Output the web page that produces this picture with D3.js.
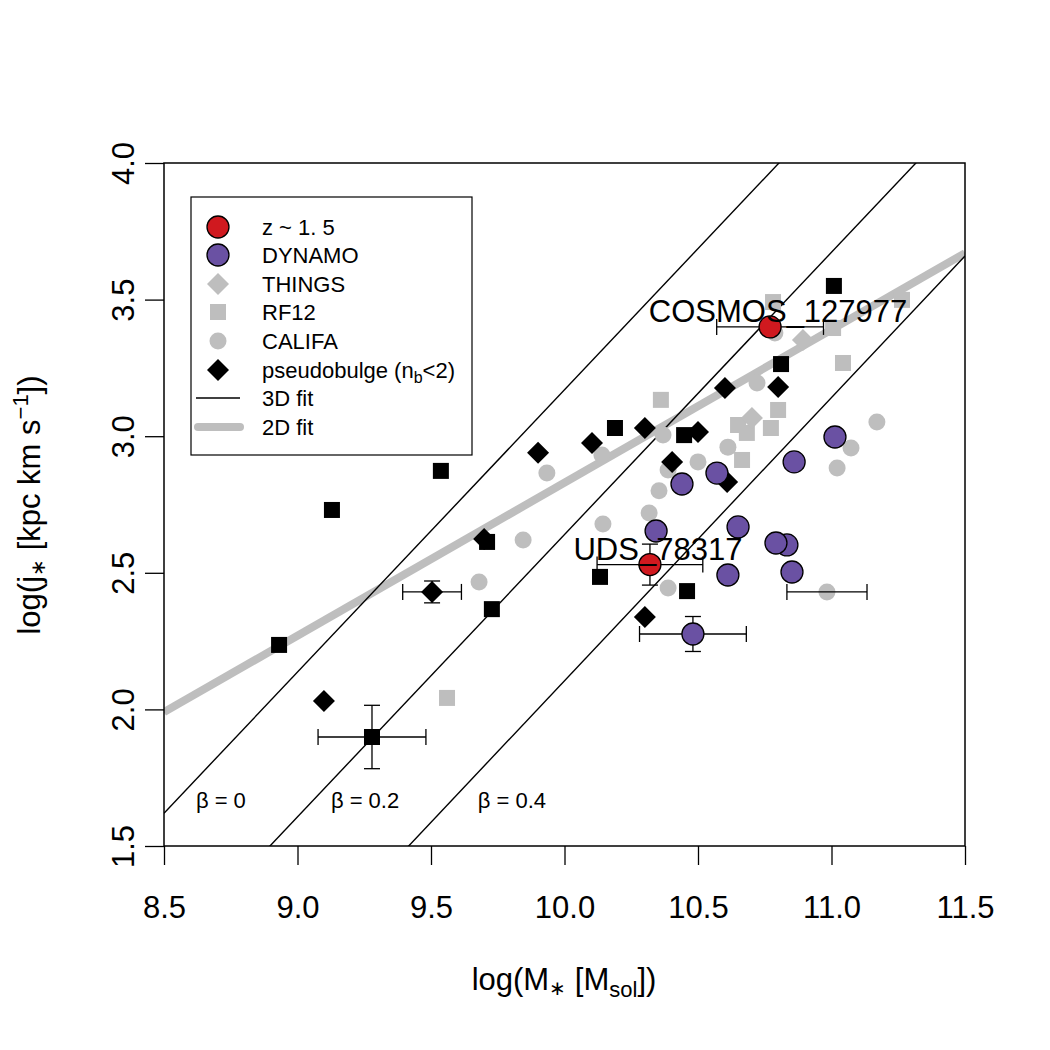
<!DOCTYPE html>
<meta charset="utf-8">
<script src="https://d3js.org/d3.v7.min.js"></script>
<style>
  body { margin: 0; background: #fff; }
  text { font-family: "Liberation Sans", Arial, Helvetica, sans-serif; }
</style>
<div id="my_dataviz"></div>
<script>
// ---- data ----
// z ~ 1.5 objects
var zX = [10.77, 10.32];
var zY = [3.40, 2.53];
var zNames = ["COSMOS_127977", "UDS_78317"];

// DYNAMO
var dynX = [11.013, 10.860, 10.571, 10.440, 10.343, 10.650, 10.833, 10.792, 10.612, 10.852, 10.481];
var dynY = [2.997, 2.906, 2.865, 2.825, 2.653, 2.668, 2.602, 2.609, 2.492, 2.503, 2.276];

// THINGS
var thingsX = [10.702, 10.893];
var thingsY = [3.067, 3.352];

// RF12
var rfX = [10.781, 10.361, 11.043, 10.800, 10.650, 10.773, 11.264, 11.006, 10.665, 9.560, 10.683];
var rfY = [3.491, 3.133, 3.268, 3.096, 3.041, 3.030, 3.499, 3.396, 2.913, 2.042, 3.012];

// CALIFA
var califaX = [11.170, 11.073, 11.021, 10.612, 10.500, 10.369, 10.388, 10.354, 10.317, 10.144, 10.388, 10.983, 10.721, 10.140, 9.934, 9.845, 9.680, 10.788];
var califaY = [3.052, 2.957, 2.884, 2.960, 2.906, 3.004, 2.876, 2.800, 2.719, 2.679, 2.444, 2.430, 3.195, 2.931, 2.865, 2.620, 2.466, 3.378];

// pseudobulges: squares and diamonds
var pbSqX = [9.129, 9.537, 8.931, 9.279, 9.728, 10.133, 10.189, 10.448, 10.459, 10.811, 11.009, 9.710];
var pbSqY = [2.730, 2.873, 2.236, 1.899, 2.367, 2.485, 3.030, 3.004, 2.433, 3.264, 3.550, 2.613];
var pbDiX = [9.504, 9.099, 9.901, 10.103, 10.301, 10.500, 10.403, 10.601, 10.800, 10.609, 10.301, 9.699];
var pbDiY = [2.430, 2.031, 2.939, 2.975, 3.030, 3.015, 2.906, 3.176, 3.180, 2.832, 2.338, 2.624];

// error bars (x, y, half-width in x, half-width in y)
var errX  = [9.279, 9.504, 10.481, 10.983, 10.32, 10.77];
var errY  = [1.899, 2.430, 2.276, 2.430, 2.53, 3.40];
var errDX = [0.202, 0.110, 0.200, 0.150, 0.198, 0.200];
var errDY = [0.116, 0.040, 0.064, 0, 0.075, 0];

// 3D fit lines for beta = 0, 0.2, 0.4 (endpoints at x = 8.5 and 11.5)
var fitBeta = ["0", "0.2", "0.4"];
var fitY0 = [1.62, 1.09, 0.55];
var fitY1 = [4.72, 4.19, 3.66];
var betaLabX = [8.713, 9.253, 9.803];
var betaLabY = 1.665;

// 2D fit
var fit2dX = [8.5, 11.5];
var fit2dY = [1.99, 3.67];

var xTicks = [8.5, 9.0, 9.5, 10.0, 10.5, 11.0, 11.5];
var yTicks = [1.5, 2.0, 2.5, 3.0, 3.5, 4.0];

// ---- drawing ----
var W = 1050, H = 1050;
var grey = "#bebebe", purple = "#6a51a3", red = "#d0191f";

var svg = d3.select("#my_dataviz")
    .append("svg")
    .attr("width", W)
    .attr("height", H);

var x = d3.scaleLinear().domain([8.5, 11.5]).range([164, 965]);
var y = d3.scaleLinear().domain([1.5, 4.0]).range([846, 163]);

svg.append("clipPath").attr("id", "plotclip")
    .append("rect")
    .attr("x", 164).attr("y", 163)
    .attr("width", 965 - 164).attr("height", 846 - 163);

var plot = svg.append("g").attr("clip-path", "url(#plotclip)");

// 2D fit
plot.append("line")
    .attr("x1", x(fit2dX[0])).attr("y1", y(fit2dY[0]))
    .attr("x2", x(fit2dX[1])).attr("y2", y(fit2dY[1]))
    .attr("stroke", grey).attr("stroke-width", 8);

// 3D fit lines
fitBeta.forEach(function(b, i) {
    plot.append("line")
        .attr("x1", x(8.5)).attr("y1", y(fitY0[i]))
        .attr("x2", x(11.5)).attr("y2", y(fitY1[i]))
        .attr("stroke", "#000").attr("stroke-width", 1.4);
    plot.append("text")
        .attr("x", x(betaLabX[i])).attr("y", y(betaLabY))
        .attr("text-anchor", "middle")
        .attr("dominant-baseline", "central")
        .style("font-size", "22px")
        .text("\u03B2 = " + b);
});

function zip(a, b) { return a.map(function(v, i) { return [v, b[i]]; }); }

function squares(g, pts, s, fill) {
    g.selectAll(null).data(pts).enter().append("rect")
        .attr("x", function(d) { return x(d[0]) - s / 2; })
        .attr("y", function(d) { return y(d[1]) - s / 2; })
        .attr("width", s).attr("height", s)
        .attr("fill", fill);
}
function diamonds(g, pts, r, fill) {
    g.selectAll(null).data(pts).enter().append("path")
        .attr("d", function(d) {
            var cx = x(d[0]), cy = y(d[1]);
            return "M" + cx + "," + (cy - r) + "L" + (cx + r) + "," + cy +
                   "L" + cx + "," + (cy + r) + "L" + (cx - r) + "," + cy + "Z";
        })
        .attr("fill", fill);
}
function circles(g, pts, r, fill, stroke) {
    g.selectAll(null).data(pts).enter().append("circle")
        .attr("cx", function(d) { return x(d[0]); })
        .attr("cy", function(d) { return y(d[1]); })
        .attr("r", r)
        .attr("fill", fill)
        .attr("stroke", stroke || "none")
        .attr("stroke-width", 1.3);
}

var pts = svg.append("g");
// grey comparison samples
squares(pts, zip(rfX, rfY), 16, grey);
circles(pts, zip(califaX, califaY), 8.5, grey);
diamonds(pts, zip(thingsX, thingsY), 11, grey);
// pseudobulges
squares(pts, zip(pbSqX, pbSqY), 16, "#000");
diamonds(pts, zip(pbDiX, pbDiY), 11, "#000");

// error bars
var cap = 8;
errX.forEach(function(ex, i) {
    var g = pts.append("g").attr("stroke", "#000").attr("stroke-width", 1.3);
    var cx = x(ex), cy = y(errY[i]);
    if (errDX[i] > 0) {
        var xl = x(ex - errDX[i]), xr = x(ex + errDX[i]);
        g.append("line").attr("x1", xl).attr("x2", xr).attr("y1", cy).attr("y2", cy);
        g.append("line").attr("x1", xl).attr("x2", xl).attr("y1", cy - cap).attr("y2", cy + cap);
        g.append("line").attr("x1", xr).attr("x2", xr).attr("y1", cy - cap).attr("y2", cy + cap);
    }
    if (errDY[i] > 0) {
        var yt = y(errY[i] + errDY[i]), yb = y(errY[i] - errDY[i]);
        g.append("line").attr("x1", cx).attr("x2", cx).attr("y1", yt).attr("y2", yb);
        g.append("line").attr("x1", cx - cap).attr("x2", cx + cap).attr("y1", yt).attr("y2", yt);
        g.append("line").attr("x1", cx - cap).attr("x2", cx + cap).attr("y1", yb).attr("y2", yb);
    }
});

// DYNAMO and z~1.5
circles(pts, zip(dynX, dynY), 11, purple, "#000");
circles(pts, zip(zX, zY), 11, red, "#000");

// labels of the z~1.5 objects
pts.selectAll(null).data(zX).enter().append("text")
    .attr("x", function(d) { return x(d) + 8; })
    .attr("y", function(d, i) { return y(zY[i]) - 5; })
    .attr("text-anchor", "middle")
    .style("font-size", "31px")
    .text(function(d, i) { return zNames[i]; });

// frame
svg.append("rect")
    .attr("x", 164).attr("y", 163)
    .attr("width", 965 - 164).attr("height", 846 - 163)
    .attr("fill", "none").attr("stroke", "#000").attr("stroke-width", 1.5);

// axes
var xAxis = svg.append("g")
    .attr("transform", "translate(0,846)")
    .call(d3.axisBottom(x).tickValues(xTicks).tickFormat(d3.format(".1f")).tickSize(19).tickPadding(31));
xAxis.select(".domain").remove();
xAxis.selectAll("line").attr("stroke-width", 1.3);
xAxis.selectAll("text").style("font-size", "31px").attr("font-family", null);

var yAxis = svg.append("g")
    .attr("transform", "translate(164,0)")
    .call(d3.axisLeft(y).tickValues(yTicks).tickFormat(d3.format(".1f")).tickSize(19));
yAxis.select(".domain").remove();
yAxis.selectAll("line").attr("stroke-width", 1.3);
yAxis.selectAll("text")
    .attr("x", null).attr("dy", null)
    .attr("transform", "translate(-30,0) rotate(-90)")
    .attr("text-anchor", "middle")
    .attr("y", 0)
    .style("font-size", "31px").attr("font-family", null);

// axis titles
var xt = svg.append("text")
    .attr("x", 564).attr("y", 990)
    .attr("text-anchor", "middle")
    .style("font-size", "31px");
xt.append("tspan").text("log(M");
xt.append("tspan").attr("dy", 5).style("font-size", "20px").text("\u2217");
xt.append("tspan").attr("dy", -5).text(" [M");
xt.append("tspan").attr("dy", 7).style("font-size", "22px").text("sol");
xt.append("tspan").attr("dy", -7).text("])");

var yt = svg.append("text")
    .attr("transform", "translate(40,505) rotate(-90)")
    .attr("text-anchor", "middle")
    .style("font-size", "31px");
yt.append("tspan").text("log(j");
yt.append("tspan").attr("dy", 5).style("font-size", "20px").text("\u2217");
yt.append("tspan").attr("dy", -5).text(" [kpc km s");
yt.append("tspan").attr("dy", -12).style("font-size", "22px").text("\u22121");
yt.append("tspan").attr("dy", 12).text("])");

// legend
var lg = svg.append("g");
lg.append("rect")
    .attr("x", 191).attr("y", 197).attr("width", 281).attr("height", 258)
    .attr("fill", "#fff").attr("stroke", "#000").attr("stroke-width", 1.2);

var legNames = ["z ~ 1. 5", "DYNAMO", "THINGS", "RF12", "CALIFA", "pseudobulge", "3D fit", "2D fit"];
var legY = [227, 255, 284, 312, 341, 370, 398, 427];
var sx = 218;
lg.append("circle").attr("cx", sx).attr("cy", legY[0]).attr("r", 11).attr("fill", red).attr("stroke", "#000").attr("stroke-width", 1.3);
lg.append("circle").attr("cx", sx).attr("cy", legY[1]).attr("r", 11).attr("fill", purple).attr("stroke", "#000").attr("stroke-width", 1.3);
lg.append("path").attr("d", "M" + sx + "," + (legY[2] - 11) + "l11,11l-11,11l-11,-11z").attr("fill", grey);
lg.append("rect").attr("x", sx - 8).attr("y", legY[3] - 8).attr("width", 16).attr("height", 16).attr("fill", grey);
lg.append("circle").attr("cx", sx).attr("cy", legY[4]).attr("r", 8.5).attr("fill", grey);
lg.append("path").attr("d", "M" + sx + "," + (legY[5] - 11) + "l11,11l-11,11l-11,-11z").attr("fill", "#000");
lg.append("line").attr("x1", 196).attr("x2", 240).attr("y1", legY[6]).attr("y2", legY[6]).attr("stroke", "#000").attr("stroke-width", 1.3);
lg.append("line").attr("x1", 198).attr("x2", 240).attr("y1", legY[7]).attr("y2", legY[7]).attr("stroke", grey).attr("stroke-width", 8).attr("stroke-linecap", "round");

legNames.forEach(function(n, i) {
    var t = lg.append("text")
        .attr("x", 262).attr("y", legY[i])
        .attr("dy", "0.36em")
        .style("font-size", "22px");
    if (n === "pseudobulge") {
        t.append("tspan").text("pseudobulge (n");
        t.append("tspan").attr("dy", 5).style("font-size", "16px").text("b");
        t.append("tspan").attr("dy", -5).text("<2)");
    } else {
        t.text(n);
    }
});
</script>
